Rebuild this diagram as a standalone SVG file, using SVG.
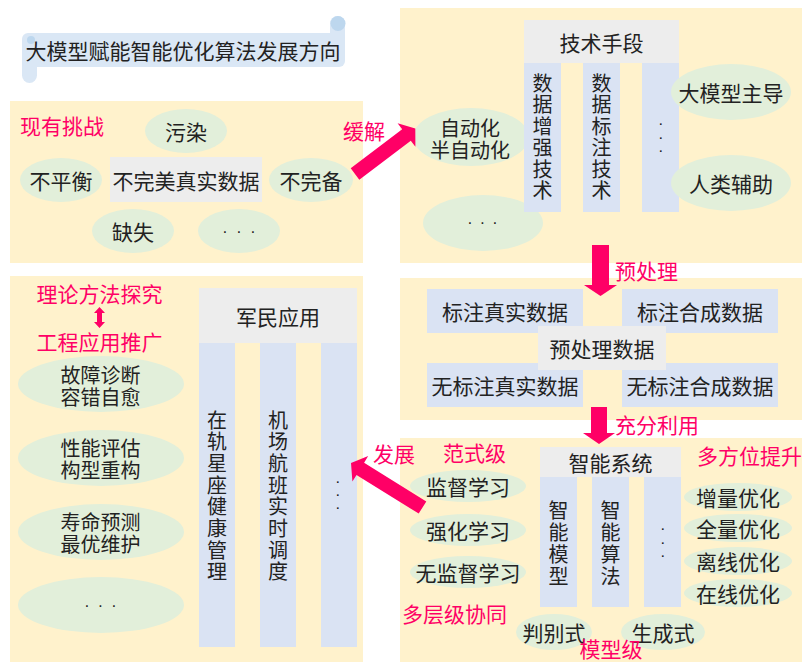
<svg xmlns="http://www.w3.org/2000/svg" width="802" height="662" viewBox="0 0 802 662">
<style>
.p{fill:#FFF2CC}
.e{fill:#E2EFDA}
.g{fill:#EDEDED}
.c{fill:#DAE3F3}
.t{font-family:"Noto Sans CJK SC","Noto Sans",sans-serif;font-size:21px;fill:#222;text-anchor:middle;dominant-baseline:central}
.s{font-size:20px}
.v{font-family:"Noto Sans CJK SC","Noto Sans",sans-serif;font-size:20px;fill:#222;writing-mode:vertical-rl;text-orientation:upright;text-anchor:start}
.l{font-family:"Noto Sans CJK SC","Noto Sans",sans-serif;font-size:21px;fill:#FF0066;dominant-baseline:central}
.m{text-anchor:middle}
.d{font-family:"Liberation Sans",sans-serif;font-size:16px;fill:#222;text-anchor:middle;dominant-baseline:central}
.k{font-family:"Liberation Sans",sans-serif;font-size:11px;font-weight:bold;fill:#222;text-anchor:middle;dominant-baseline:central}
.r{fill:#FF0066}
</style>
<rect width="802" height="662" fill="#FFFFFF"/>

<g id="title">
  <rect x="330" y="16" width="15" height="32" rx="7.5" fill="#DAE7F5"/>
  <rect x="22" y="55" width="15" height="28" rx="7.5" fill="#DAE7F5"/>
  <rect x="22" y="33" width="323" height="34" rx="6" fill="#DAE7F5"/>
  <circle cx="338" cy="23.5" r="7.5" fill="#BDD7EE"/>
  <circle cx="31" cy="40" r="4" fill="#BDD7EE"/>
  <text class="t" x="183" y="50">大模型赋能智能优化算法发展方向</text>
</g>

<g id="panels">
  <rect class="p" x="10" y="101" width="353" height="162"/>
  <rect class="p" x="400" y="8" width="402" height="255"/>
  <rect class="p" x="400" y="278" width="402" height="142"/>
  <rect class="p" x="10" y="276" width="353" height="386"/>
  <rect class="p" x="400" y="438" width="402" height="224"/>
</g>

<g id="challenges">
  <text class="l" x="20" y="125">现有挑战</text>
  <g id="n-wuran"><ellipse class="e" cx="186" cy="131" rx="41" ry="22"/><text class="t" x="186" y="131">污染</text></g>
  <g id="n-bupingheng"><ellipse class="e" cx="61" cy="180" rx="41" ry="22"/><text class="t" x="61" y="180">不平衡</text></g>
  <g id="n-imperfect"><rect class="g" x="110" y="157" width="152" height="45"/><text class="t" x="186" y="180">不完美真实数据</text></g>
  <g id="n-buwanbei"><ellipse class="e" cx="311" cy="180" rx="42" ry="22"/><text class="t" x="311" y="180">不完备</text></g>
  <g id="n-queshi"><ellipse class="e" cx="133" cy="231" rx="41" ry="22"/><text class="t" x="133" y="231">缺失</text></g>
  <g id="n-more1"><ellipse class="e" cx="239" cy="231" rx="41" ry="22"/><text class="d"><tspan x="225" y="231">·</tspan><tspan x="239" y="231">·</tspan><tspan x="253" y="231">·</tspan></text></g>
</g>

<g id="techniques">
  <g id="n-auto"><ellipse class="e" cx="471" cy="137" rx="58" ry="29"/><text class="t s"><tspan x="470" y="127">自动化</tspan><tspan x="470" y="149">半自动化</tspan></text></g>
  <g id="n-more2"><ellipse class="e" cx="483" cy="223" rx="60" ry="28"/><text class="d"><tspan x="470" y="222">·</tspan><tspan x="482.5" y="222">·</tspan><tspan x="495" y="222">·</tspan></text></g>
  <g id="n-tech">
    <rect class="g" x="524" y="20" width="155" height="43"/>
    <text class="t" x="601.5" y="42">技术手段</text>
    <rect class="c" x="524" y="63" width="37" height="149"/>
    <rect class="c" x="583" y="63" width="37" height="149"/>
    <rect class="c" x="642" y="63" width="37" height="149"/>
    <text class="v" x="542.5" y="73" letter-spacing="1.5">数据增强技术</text>
    <text class="v" x="601.5" y="73" letter-spacing="1.5">数据标注技术</text>
    <text class="k"><tspan x="661" y="124">·</tspan><tspan x="661" y="137.5">·</tspan><tspan x="661" y="151">·</tspan></text>
  </g>
  <g id="n-llm"><ellipse class="e" cx="731" cy="92" rx="60" ry="28"/><text class="t" x="731" y="92">大模型主导</text></g>
  <g id="n-human"><ellipse class="e" cx="731" cy="183" rx="60" ry="28"/><text class="t" x="731" y="183">人类辅助</text></g>
</g>

<g id="data">
  <g id="n-lr"><rect class="c" x="427" y="289" width="156" height="44"/><text class="t" x="505" y="311">标注真实数据</text></g>
  <g id="n-ls"><rect class="c" x="622" y="289" width="156" height="44"/><text class="t" x="700" y="311">标注合成数据</text></g>
  <g id="n-ur"><rect class="c" x="427" y="363" width="156" height="44"/><text class="t" x="505" y="385">无标注真实数据</text></g>
  <g id="n-us"><rect class="c" x="622" y="363" width="156" height="44"/><text class="t" x="700" y="385">无标注合成数据</text></g>
  <g id="n-pre"><rect class="g" x="538" y="326" width="128" height="44"/><text class="t" x="602" y="348">预处理数据</text></g>
</g>

<g id="system">
  <text class="l" x="443" y="452">范式级</text>
  <text class="l" x="697" y="455">多方位提升</text>
  <text class="l" x="402" y="613">多层级协同</text>
  <g id="n-sup"><ellipse class="e" cx="468" cy="486" rx="58" ry="16"/><text class="t" x="468" y="486">监督学习</text></g>
  <g id="n-rl"><ellipse class="e" cx="468" cy="530" rx="58" ry="16"/><text class="t" x="468" y="530">强化学习</text></g>
  <g id="n-unsup"><ellipse class="e" cx="468" cy="572" rx="58" ry="16"/><text class="t" x="468" y="572">无监督学习</text></g>
  <g id="n-is">
    <rect class="g" x="540" y="447" width="141" height="30"/>
    <text class="t" x="610.5" y="462">智能系统</text>
    <rect class="c" x="540" y="477" width="37" height="130"/>
    <rect class="c" x="592" y="477" width="37" height="130"/>
    <rect class="c" x="644" y="477" width="37" height="130"/>
    <text class="v" x="558.5" y="500" letter-spacing="2">智能模型</text>
    <text class="v" x="610.5" y="500" letter-spacing="2">智能算法</text>
    <text class="k"><tspan x="663" y="529">·</tspan><tspan x="663" y="542.5">·</tspan><tspan x="663" y="556">·</tspan></text>
  </g>
  <g id="n-disc"><ellipse class="e" cx="554" cy="632" rx="38" ry="18"/><text class="t" x="554" y="632">判别式</text></g>
  <g id="n-gen"><ellipse class="e" cx="663" cy="632" rx="42" ry="18"/><text class="t" x="663" y="632">生成式</text></g>
  <text class="l m" x="611" y="648" font-size="20">模型级</text>
  <g id="n-inc"><ellipse class="e" cx="738" cy="497" rx="54" ry="14"/><text class="t" x="738" y="497">增量优化</text></g>
  <g id="n-full"><ellipse class="e" cx="738" cy="528" rx="54" ry="14"/><text class="t" x="738" y="528">全量优化</text></g>
  <g id="n-off"><ellipse class="e" cx="738" cy="561" rx="54" ry="14"/><text class="t" x="738" y="561">离线优化</text></g>
  <g id="n-on"><ellipse class="e" cx="738" cy="593" rx="54" ry="14"/><text class="t" x="738" y="593">在线优化</text></g>
</g>

<g id="applications">
  <text class="l m" x="99.5" y="293">理论方法探究</text>
  <text class="l m" x="99.5" y="341">工程应用推广</text>
  <g id="n-fault"><ellipse class="e" cx="101" cy="384" rx="83" ry="28"/><text class="t s"><tspan x="100.5" y="374">故障诊断</tspan><tspan x="100.5" y="396">容错自愈</tspan></text></g>
  <g id="n-perf"><ellipse class="e" cx="101" cy="458" rx="83" ry="28"/><text class="t s"><tspan x="100.5" y="447">性能评估</tspan><tspan x="100.5" y="469">构型重构</tspan></text></g>
  <g id="n-life"><ellipse class="e" cx="101" cy="532" rx="83" ry="28"/><text class="t s"><tspan x="100.5" y="521">寿命预测</tspan><tspan x="100.5" y="543">最优维护</tspan></text></g>
  <g id="n-more3"><ellipse class="e" cx="101" cy="605" rx="83" ry="28"/><text class="d"><tspan x="87" y="605">·</tspan><tspan x="100.5" y="605">·</tspan><tspan x="114" y="605">·</tspan></text></g>
  <g id="n-app">
    <rect class="g" x="199" y="288" width="158" height="55"/>
    <text class="t" x="278" y="316">军民应用</text>
    <rect class="c" x="199" y="343" width="36" height="304"/>
    <rect class="c" x="260" y="343" width="36" height="304"/>
    <rect class="c" x="321" y="343" width="36" height="304"/>
    <text class="v" x="217" y="410" letter-spacing="1.7">在轨星座健康管理</text>
    <text class="v" x="278" y="410" letter-spacing="1.7">机场航班实时调度</text>
    <text class="k"><tspan x="338" y="482">·</tspan><tspan x="338" y="495">·</tspan><tspan x="338" y="508">·</tspan></text>
  </g>
</g>

<g id="connectors">
  <polygon class="r" points="350.7,168.3 402.2,129.3 397.6,123.3 415.3,128.4 415.4,146.7 410.8,140.7 359.3,179.7"/>
  <text class="l" x="343" y="130">缓解</text>
  <polygon class="r" points="592,245 609,245 609,285 617,285 600.5,296 584,285 592,285"/>
  <text class="l" x="615" y="270">预处理</text>
  <polygon class="r" points="591,407 607,407 607,433 615,433 599,444 583,433 591,433"/>
  <text class="l" x="615" y="424">充分利用</text>
  <polygon class="r" points="426.3,501.4 364.1,462.7 368.2,456.1 351,463 352.4,481.5 356.5,474.9 418.7,513.6"/>
  <text class="l" x="373" y="453">发展</text>
  <polygon class="r" points="99.5,307 105,313 102,313 102,322 105,322 99.5,328 94,322 97,322 97,313 94,313"/>
</g>
</svg>
